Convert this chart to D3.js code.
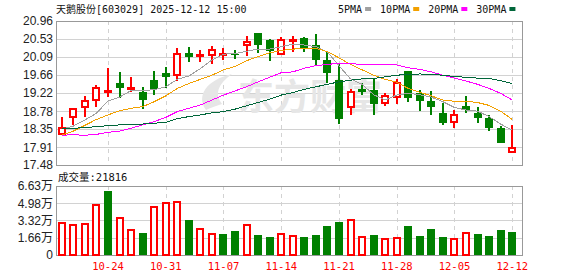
<!DOCTYPE html>
<html>
<head>
<meta charset="utf-8">
<script src="https://cdnjs.cloudflare.com/ajax/libs/d3/7.8.5/d3.min.js"></script>
<style>
  html, body { margin: 0; padding: 0; background: #fff; }
  svg { display: block; }
  .axis-num { font-family: "Liberation Sans", Arial, "Noto Sans CJK SC", sans-serif; font-size: 12px; fill: #222; }
  .mono { font-family: "DejaVu Sans Mono", "Noto Sans CJK SC", monospace; font-size: 10px; fill: #111; }
</style>
</head>
<body>
<div id="chart"></div>
<script>
const stockTitle = '天鹅股份[603029]  2025-12-12 15:00';
const volTitle = '成交量:21816';
const watermark = '东方财富';

const dates = ['10-20', '10-21', '10-22', '10-23', '10-24',
  '10-27', '10-28', '10-29', '10-30', '10-31',
  '11-03', '11-04', '11-05', '11-06', '11-07',
  '11-10', '11-11', '11-12', '11-13', '11-14',
  '11-17', '11-18', '11-19', '11-20', '11-21',
  '11-24', '11-25', '11-26', '11-27', '11-28',
  '12-01', '12-02', '12-03', '12-04', '12-05',
  '12-08', '12-09', '12-10', '12-11', '12-12'];

const opens = [18.22, 18.63, 18.87, 19.05, 19.26, 19.46, 19.35, 19.25, 19.53, 19.71,
  19.65, 20.19, 20.13, 20.13, 20.17, 20.17, 20.37, 20.66, 20.49, 20.17,
  20.49, 20.56, 20.38, 20.02, 19.53, 18.87, 19.32, 19.29, 18.98, 19.12,
  19.75, 19.21, 19.03, 18.73, 18.51, 18.90, 18.73, 18.61, 18.37, 17.79];
const highs = [18.65, 18.86, 19.15, 19.41, 19.83, 19.73, 19.61, 19.37, 19.75, 19.85,
  20.31, 20.32, 20.26, 20.36, 20.31, 20.26, 20.60, 20.67, 20.52, 20.57,
  20.60, 20.58, 20.65, 20.20, 19.94, 19.31, 19.45, 19.57, 19.22, 19.55,
  19.76, 19.29, 19.27, 18.99, 18.82, 19.15, 18.87, 18.69, 18.42, 18.45];
const lows = [18.21, 18.44, 18.65, 18.87, 19.13, 19.11, 19.25, 18.84, 19.18, 19.35,
  19.51, 19.98, 19.98, 19.91, 20.02, 20.03, 20.12, 20.19, 20.00, 20.15,
  20.22, 20.21, 19.88, 19.45, 18.47, 18.70, 19.18, 18.70, 18.91, 18.95,
  19.01, 18.78, 18.70, 18.45, 18.38, 18.74, 18.50, 18.31, 18.00, 17.79];
const closes = [18.38, 18.83, 19.03, 19.33, 19.27, 19.35, 19.35, 19.04, 19.32, 19.61,
  20.16, 20.10, 20.13, 20.25, 20.17, 20.13, 20.45, 20.39, 20.24, 20.49,
  20.49, 20.31, 20.02, 19.71, 18.59, 19.24, 19.25, 18.96, 19.15, 19.45,
  19.11, 19.03, 18.89, 18.50, 18.70, 18.81, 18.62, 18.38, 18.00, 17.89];
// close of the day before 10-20
const prevClose = 18.20;

// volume, in 万 shares
const volumes = [3.10, 2.88, 2.98, 4.80, 6.18, 3.55, 2.40, 2.14, 4.61, 5.00,
  5.09, 3.39, 2.50, 2.02, 2.05, 2.31, 2.88, 1.95, 1.76, 2.02,
  1.83, 1.73, 1.95, 2.82, 3.20, 3.36, 1.70, 1.95, 1.54, 1.63,
  2.82, 1.83, 2.50, 1.73, 1.54, 2.11, 2.05, 1.83, 2.40, 2.1816];

const ma5 = [18.35, 18.42, 18.57, 18.73, 19.03, 19.12, 19.28, 19.28, 19.30, 19.37,
  19.55, 19.63, 19.81, 20.02, 20.16, 20.17, 20.23, 20.28, 20.28, 20.34,
  20.40, 20.38, 20.34, 20.21, 19.88, 19.56, 19.43, 19.18, 19.05, 19.17,
  19.21, 19.18, 19.12, 19.01, 18.87, 18.81, 18.78, 18.65, 18.47, 18.32];
const ma10 = [18.20, 18.30, 18.44, 18.58, 18.69, 18.79, 18.85, 18.89, 19.01, 19.15,
  19.33, 19.45, 19.55, 19.65, 19.78, 19.86, 20.00, 20.10, 20.19, 20.25,
  20.28, 20.30, 20.30, 20.22, 20.07, 19.91, 19.78, 19.65, 19.55, 19.48,
  19.33, 19.24, 19.15, 19.05, 19.02, 19.02, 18.99, 18.92, 18.78, 18.58];
const ma20 = [18.20, 18.21, 18.20, 18.22, 18.27, 18.30, 18.37, 18.45, 18.53, 18.63,
  18.77, 18.85, 18.93, 19.05, 19.17, 19.27, 19.37, 19.49, 19.60, 19.71,
  19.73, 19.82, 19.88, 19.91, 19.94, 19.93, 19.91, 19.90, 19.90, 19.90,
  19.83, 19.79, 19.73, 19.65, 19.58, 19.51, 19.43, 19.33, 19.21, 19.05];
const ma30 = [18.35, 18.37, 18.38, 18.41, 18.43, 18.45, 18.46, 18.47, 18.49, 18.51,
  18.60, 18.65, 18.69, 18.74, 18.77, 18.83, 18.91, 18.99, 19.07, 19.17,
  19.23, 19.31, 19.37, 19.43, 19.49, 19.53, 19.56, 19.57, 19.61, 19.65,
  19.67, 19.68, 19.67, 19.65, 19.62, 19.60, 19.58, 19.57, 19.52, 19.45];

const maNames = ['5PMA', '10PMA', '20PMA', '30PMA'];
const maSeries = [ma5, ma10, ma20, ma30];

const priceTicks = [17.48, 17.91, 18.35, 18.78, 19.22, 19.66, 20.09, 20.53, 20.96];
const volTicks = [0, 1.66, 3.32, 4.98, 6.63];
const xTickDates = ['10-24', '10-31', '11-07', '11-14', '11-21', '11-28', '12-05', '12-12'];

class KLineChart {
  constructor(options) {
    this.el = options.el;
    this.config = {
      w: 578,
      h: 276,
      l: 56,
      r: 522,
      main: { t: 21, b: 165 },
      vol: { t: 186, b: 255 },
      barW: 8,
      up: '#ff0000',
      down: '#008000',
      grid: '#d2d2d2',
      frame: '#999999',
      maColors: ['#a0a0a0', '#f2a000', '#ff00ff', '#00663a']
    };
  }

  init() {
    this.createChart();
    this.drawGrid();
    this.drawWatermark();
    this.drawCandles();
    this.drawMA();
    this.drawVolume();
    this.drawAxes();
    this.drawLegend();
  }

  createChart() {
    const c = this.config;
    this.svg = d3.select(this.el)
        .append('svg')
        .attr('width', c.w)
        .attr('height', c.h);

    this.x = d3.scaleBand().domain(dates).range([c.l, 518]);
    this.cx = d => this.x(d) + this.x.bandwidth() / 2;
    this.y = d3.scaleLinear().domain([17.48, 20.96]).range([c.main.b, c.main.t]);
    this.yv = d3.scaleLinear().domain([0, 6.63]).range([c.vol.b, c.vol.t]);
  }

  drawGrid() {
    const c = this.config;
    const crisp = v => Math.round(v) + 0.5;
    const g = this.svg.append('g').attr('class', 'grid');

    g.selectAll('.hp')
        .data(priceTicks.slice(1, -1))
      .enter().append('line')
        .attr('x1', c.l).attr('x2', c.r)
        .attr('y1', d => crisp(this.y(d))).attr('y2', d => crisp(this.y(d)))
        .attr('stroke', c.grid);

    g.selectAll('.hv')
        .data(volTicks.slice(1, -1))
      .enter().append('line')
        .attr('x1', c.l).attr('x2', c.r)
        .attr('y1', d => crisp(this.yv(d))).attr('y2', d => crisp(this.yv(d)))
        .attr('stroke', c.grid);

    [c.main, c.vol].forEach(p => {
      g.selectAll(null)
          .data(xTickDates)
        .enter().append('line')
          .attr('x1', d => crisp(this.cx(d))).attr('x2', d => crisp(this.cx(d)))
          .attr('y1', p.t).attr('y2', p.b)
          .attr('stroke', c.grid)
          .attr('stroke-dasharray', '4,4');

      g.append('rect')
          .attr('x', c.l + 0.5).attr('y', p.t + 0.5)
          .attr('width', c.r - c.l).attr('height', p.b - p.t)
          .attr('fill', 'none')
          .attr('stroke', c.frame);
    });
  }

  drawWatermark() {
    const g = this.svg.append('g').attr('class', 'watermark');
    g.append('path')
        .attr('d', 'M206,110 C196,96 206,80 232,74 C218,84 214,94 222,104 C216,106 210,108 206,110 Z')
        .attr('fill', '#e6e6e6');
    g.append('text')
        .attr('x', 238)
        .attr('y', 94)
        .attr('dominant-baseline', 'central')
        .style('font-family', '"Noto Sans CJK SC", sans-serif')
        .style('font-size', '36px')
        .style('font-weight', 'bold')
        .attr('fill', '#e6e6e6')
        .text(watermark);
  }

  drawCandles() {
    const c = this.config;
    const rows = dates.map((d, i) => ({
      d, o: opens[i], h: highs[i], l: lows[i], c: closes[i]
    }));

    const g = this.svg.append('g')
        .attr('class', 'candles')
        .attr('shape-rendering', 'crispEdges');

    const cell = g.selectAll('g')
        .data(rows)
      .enter().append('g');

    cell.append('line')
        .attr('x1', r => Math.round(this.cx(r.d)))
        .attr('x2', r => Math.round(this.cx(r.d)))
        .attr('y1', r => this.y(r.h))
        .attr('y2', r => this.y(r.l))
        .attr('stroke', r => r.c >= r.o ? c.up : c.down)
        .attr('stroke-width', 2);

    cell.append('rect')
        .attr('x', r => Math.round(this.cx(r.d) - c.barW / 2) + (r.c >= r.o ? 1 : 0))
        .attr('width', r => r.c >= r.o ? c.barW - 2 : c.barW)
        .attr('y', r => this.y(Math.max(r.o, r.c)))
        .attr('height', r => Math.max(1, Math.abs(this.y(r.o) - this.y(r.c))))
        .attr('fill', r => r.c >= r.o ? '#fff' : c.down)
        .attr('stroke', r => r.c >= r.o ? c.up : 'none')
        .attr('stroke-width', 2);
  }

  drawMA() {
    const line = d3.line()
        .x((v, i) => this.cx(dates[i]))
        .y(v => this.y(v));

    this.svg.append('g')
        .attr('class', 'ma')
        .selectAll('path')
        .data(maSeries)
      .enter().append('path')
        .attr('d', line)
        .attr('fill', 'none')
        .attr('stroke', (s, i) => this.config.maColors[i])
        .attr('stroke-width', 1)
        .attr('shape-rendering', 'crispEdges');
  }

  drawVolume() {
    const c = this.config;
    const rows = dates.map((d, i) => ({
      d, v: volumes[i], up: closes[i] >= (i ? closes[i - 1] : prevClose)
    }));

    this.svg.append('g')
        .attr('class', 'volume')
        .attr('shape-rendering', 'crispEdges')
        .selectAll('rect')
        .data(rows)
      .enter().append('rect')
        .attr('x', r => Math.round(this.cx(r.d) - c.barW / 2) + (r.up ? 1 : 0))
        .attr('width', r => r.up ? c.barW - 2 : c.barW)
        .attr('y', r => this.yv(r.v))
        .attr('height', r => this.yv(0) - this.yv(r.v))
        .attr('fill', r => r.up ? '#fff' : c.down)
        .attr('stroke', r => r.up ? c.up : 'none')
        .attr('stroke-width', 2);
  }

  drawAxes() {
    const c = this.config;

    const yAxis = this.svg.append('g')
        .attr('class', 'axis-num')
        .attr('transform', `translate(${c.l},0)`)
        .call(d3.axisLeft(this.y)
          .tickValues(priceTicks)
          .tickSize(0)
          .tickPadding(3)
          .tickFormat(d3.format('.2f')));

    const vAxis = this.svg.append('g')
        .attr('class', 'axis-num')
        .attr('transform', `translate(${c.l},0)`)
        .call(d3.axisLeft(this.yv)
          .tickValues(volTicks)
          .tickSize(0)
          .tickPadding(3)
          .tickFormat(d => d === 0 ? '0' : d.toFixed(2) + '万'));

    const xAxis = this.svg.append('g')
        .attr('transform', `translate(0,${c.vol.b})`)
        .call(d3.axisBottom(this.x)
          .tickValues(xTickDates)
          .tickSize(0)
          .tickPadding(8));

    [yAxis, vAxis, xAxis].forEach(a => {
      a.select('.domain').remove();
      a.attr('font-family', null).attr('font-size', null);
    });
    yAxis.selectAll('text').attr('class', 'axis-num').attr('fill', null);
    vAxis.selectAll('text').attr('class', 'axis-num').attr('fill', null);
    xAxis.selectAll('text')
        .attr('class', 'mono')
        .style('fill', c.up)
        .style('font-size', '10.5px');

    this.svg.append('text')
        .attr('class', 'mono')
        .attr('x', c.l)
        .attr('y', 13)
        .text(stockTitle);

    this.svg.append('text')
        .attr('class', 'mono')
        .attr('x', c.l + 2)
        .attr('y', 181)
        .style('font-size', '10.5px')
        .text(volTitle);
  }

  drawLegend() {
    const c = this.config;
    const g = this.svg.append('g').attr('class', 'legend');
    let x = 338;
    maNames.forEach((name, i) => {
      const t = g.append('text')
          .attr('class', 'mono')
          .attr('x', x)
          .attr('y', 13)
          .text(name);
      x += t.node().getComputedTextLength() + 3;
      g.append('rect')
          .attr('x', x).attr('y', 7)
          .attr('width', 6).attr('height', 4)
          .attr('fill', c.maColors[i]);
      x += 6 + 9;
    });
  }
}

const chart = new KLineChart({ el: '#chart' });
chart.init();
</script>
</body>
</html>
